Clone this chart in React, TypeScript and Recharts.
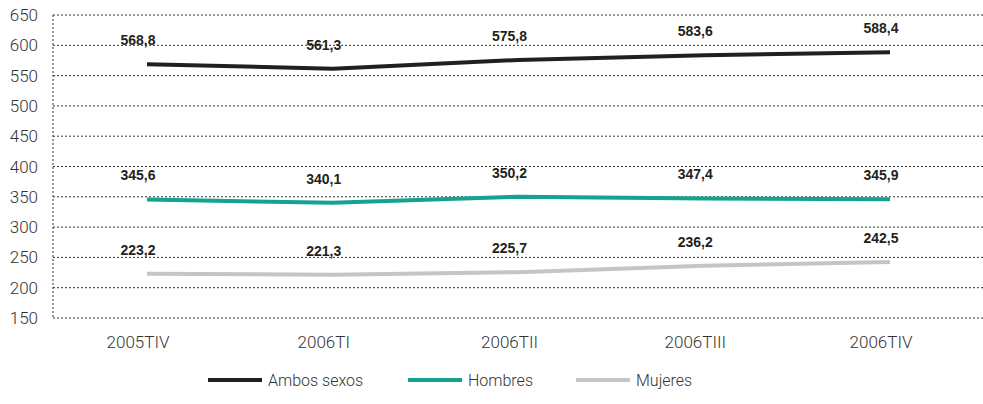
import React from "react";
import { LineChart, Line, XAxis, YAxis, CartesianGrid, LabelList } from "recharts";

const periods = ["2005TIV", "2006TI", "2006TII", "2006TIII", "2006TIV"];
const ambos = [568.8, 561.3, 575.8, 583.6, 588.4];
const hombres = [345.6, 340.1, 350.2, 347.4, 345.9];
const mujeres = [223.2, 221.3, 225.7, 236.2, 242.5];
const yTicks = [150, 200, 250, 300, 350, 400, 450, 500, 550, 600, 650];

const SERIES = [
  { key: "ambos", name: "Ambos sexos", color: "#231f20" },
  { key: "hombres", name: "Hombres", color: "#13a38e" },
  { key: "mujeres", name: "Mujeres", color: "#c4c5c7" },
];

const data = periods.map((p, i) => ({
  p, ambos: ambos[i], hombres: hombres[i], mujeres: mujeres[i],
}));

const FONT = "Roboto, 'Liberation Sans', Arial, sans-serif";
const BOLD = "'Liberation Sans', Arial, sans-serif";
const fmt = (v: any) => String(v).replace(".", ",");

function ValueLabel(props: any) {
  const { x, y, value } = props;
  return (
    <text x={x - 9} y={y - 19} textAnchor="middle" fontSize={14} fontWeight="bold" fill="#231f20" fontFamily={BOLD}>
      {fmt(value)}
    </text>
  );
}

function LegendRow() {
  return (
    <svg width={983} height={404} style={{ position: "absolute", left: 0, top: 0, pointerEvents: "none" }}>
      {SERIES.map((s, i) => {
        const x0 = [208, 408, 576][i];
        return (
          <g key={s.key}>
            <line x1={x0} x2={x0 + 54} y1={380} y2={380} stroke={s.color} strokeWidth={4} />
            <text x={x0 + 60} y={386} fontSize={16} fontWeight={300} fill="#333" fontFamily={FONT}>{s.name}</text>
          </g>
        );
      })}
    </svg>
  );
}

export default function App() {
  return (
    <div style={{ position: "fixed", left: 0, top: 0, width: 983, height: 404, background: "#fff" }}>
      <LineChart width={983} height={404} data={data} margin={{ top: 15, right: 0, left: 0, bottom: 46 }}>
        <CartesianGrid vertical={false} stroke="#333" strokeDasharray="2 2" />
        <XAxis dataKey="p" axisLine={false} tickLine={false} padding={{ left: 94, right: 93 }} height={40}
          tick={{ fontSize: 17, fill: "#333", fontFamily: FONT, fontWeight: 300, dx: -9 }} tickMargin={12} />
        <YAxis domain={[150, 650]} ticks={yTicks} width={53} tickLine={false} tickSize={0} tickMargin={15}
          axisLine={{ stroke: "#333", strokeDasharray: "2 2" }} interval={0}
          tick={{ fontSize: 17, fill: "#333", fontFamily: FONT, fontWeight: 300 }} />
        {SERIES.map((s) => (
          <Line key={s.key} type="linear" dataKey={s.key} name={s.name} stroke={s.color} strokeWidth={4}
            dot={false} isAnimationActive={false}>
            <LabelList dataKey={s.key} content={<ValueLabel />} />
          </Line>
        ))}
      </LineChart>
      <LegendRow />
    </div>
  );
}
